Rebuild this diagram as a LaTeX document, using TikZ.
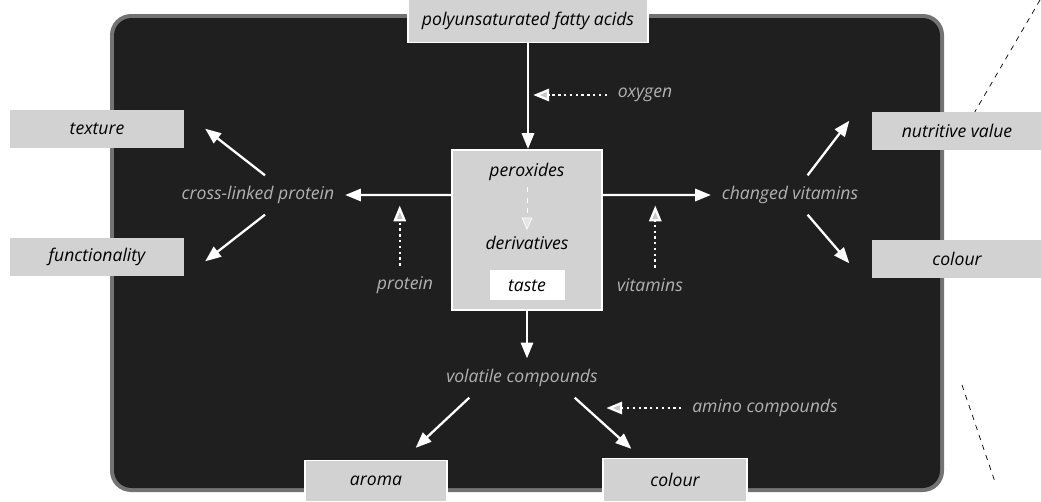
\documentclass[tikz,border=0pt]{standalone}
\usepackage{fontspec}
\setmainfont{Open Sans}
\usetikzlibrary{positioning}
\usetikzlibrary{arrows.meta}

\begin{document}
\begin{tikzpicture}[x=0.02cm,y=-0.02cm,font=\itshape\fontsize{10}{12}\selectfont,
  box/.style={draw=white, line width=0.8pt, fill=gray!35, minimum height=0.76cm},
  lab/.style={text=gray!60, inner sep=6pt},
  flow/.style={draw=white, line width=1.3pt, -{Triangle[length=9pt,width=7pt,fill=white]}},
  hint/.style={draw=white, line width=1.3pt, dotted, -{Triangle[length=9pt,width=7pt,fill=gray!45]}}]
		\useasboundingbox (0,0) rectangle (1041,501);
		\fill[black!55, rounded corners=12pt] (110,14) rectangle (944,492);
		\fill[black!88, rounded corners=10pt] (114,18) rectangle (940,488);
		\draw[dashed, thin] (1040,0) -- (973,115);
		\draw[dashed, thin] (962,385) -- (995,482);
		\node (fa) [box, minimum width=4.8cm, minimum height=0.86cm] at (528,21) {polyunsaturated fatty acids};
		\node (cb) [box, minimum width=3cm, minimum height=3.2cm, line width=1.2pt] at (527,230) {};
		\node (px) at (527,172) {peroxides};
		\node (dv) at (527,243) {derivatives};
		\node (ts) [below = 0.28cm of dv, fill=white, minimum width=1.5cm, minimum height=0.6cm] {taste};
		\node (cl) [lab] at (258,195) {cross-linked protein};
		\node (cv) [lab] at (790,195) {changed vitamins};
		\node (vc) [lab] at (522,378) {volatile compounds};
		\node (ox) [lab] at (645,95) {oxygen};
		\node (pr) [lab] at (405,285) {protein};
		\node (vt) [lab] at (650,285) {vitamins};
		\node (am) [lab] at (765,408) {amino compounds};
		\node (tx) [box, minimum width=3.5cm, draw=none] at (97,129) {texture};
		\node (fn) [box, minimum width=3.5cm, draw=none] at (97,257) {functionality};
		\node (nv) [box, minimum width=3.4cm, draw=none] at (957,131) {nutritive value};
		\node (c1) [box, minimum width=3.4cm, draw=none] at (957,259) {colour};
		\node (ar) [box, minimum width=2.84cm, minimum height=0.82cm] at (376,481) {aroma};
		\node (c2) [box, minimum width=2.88cm, minimum height=0.86cm] at (675,480) {colour};
		\draw[flow] (fa.south) -- (fa.south |- cb.north);
		\draw[draw=white, dashed, -{Triangle[length=7pt,width=6pt,fill=gray!20]}] (px.south) -- (dv.north);
		\draw[flow] ([yshift=0.7cm]cb.west) -- (cl.east);
		\draw[flow] ([yshift=0.7cm]cb.east) -- (cv.west);
		\draw[flow] (cb.south) -- (cb.south |- vc.north);
		\draw[hint] (ox.west) -- ([xshift=3pt]fa.south |- ox);
		\draw[hint] ([xshift=-3pt]pr.north) -- ([xshift=-3pt,yshift=-6pt]pr.north |- cl.east);
		\draw[hint] ([xshift=3pt]vt.north) -- ([xshift=3pt,yshift=-6pt]vt.north |- cv.west);
		\draw[hint] (am.west) -- ([shift={(-75,0)}]am.west);
		\draw[flow] ([xshift=4pt]cl.north) -- ([shift={(20,-20)}]tx.south east);
		\draw[flow] ([xshift=4pt]cl.south) -- ([shift={(20,24)}]fn.north east);
		\draw[flow] ([xshift=10pt]cv.north) -- ([shift={(-22,-30)}]nv.south west);
		\draw[flow] ([xshift=10pt]cv.south) -- ([shift={(-22,24)}]c1.north west);
		\draw[flow] ([xshift=-30pt]vc.south) -- ([shift={(-32,-12)}]ar.north east);
		\draw[flow] ([xshift=30pt]vc.south) -- ([shift={(29,-9)}]c2.north west);
\end{tikzpicture}
\end{document}
